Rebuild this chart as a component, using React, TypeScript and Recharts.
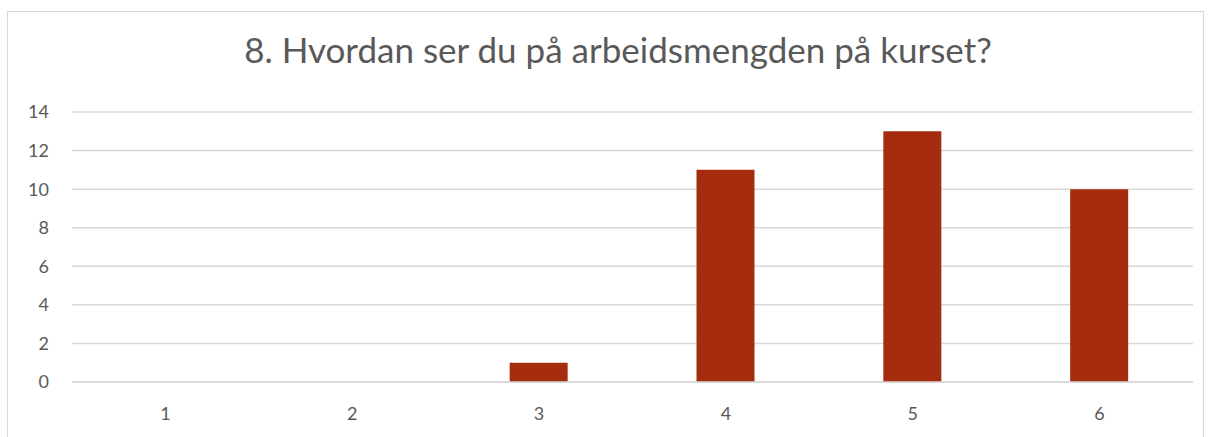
import { BarChart, Bar, XAxis, YAxis, CartesianGrid } from "recharts";

const categories = ["1", "2", "3", "4", "5", "6"];
const answers = [0, 0, 1, 11, 13, 10];
const yTicks = [0, 2, 4, 6, 8, 10, 12, 14];

const data = categories.map((c, i) => ({ name: c, value: answers[i] }));

const font = "Lato, 'Open Sans', sans-serif";

export default function App() {
  return (
    <div
      style={{
        position: "absolute",
        left: 7,
        top: 11,
        width: 1195,
        height: 440,
        border: "1px solid #d9d9d9",
        borderBottom: "none",
        background: "#fff",
        fontFamily: font,
      }}
    >
      <div
        style={{
          position: "absolute",
          left: 25,
          right: 0,
          top: 16,
          textAlign: "center",
          fontSize: 35,
          color: "#595959",
        }}
      >
        8. Hvordan ser du på arbeidsmengden på kurset?
      </div>
      <div style={{ position: "absolute", left: 0, top: 0 }}>
        <BarChart
          width={1196}
          height={426}
          data={data}
          margin={{ top: 100, right: 11, bottom: 0, left: 0 }}
        >
          <CartesianGrid vertical={false} stroke="#d9d9d9" strokeWidth={1.5} />
          <XAxis
            dataKey="name"
            height={56}
            axisLine={{ stroke: "#d9d9d9", strokeWidth: 1.5 }}
            tickLine={false}
            tickSize={0}
            tickMargin={25}
            tick={{ fill: "#595959", fontSize: 18, fontFamily: font }}
          />
          <YAxis
            width={64}
            domain={[0, 14]}
            ticks={yTicks}
            axisLine={false}
            tickLine={false}
            tickSize={0}
            tickMargin={23}
            tick={{ fill: "#595959", fontSize: 18, fontFamily: font }}
          />
          <Bar dataKey="value" fill="#a52c0f" barSize={58} isAnimationActive={false} />
        </BarChart>
      </div>
    </div>
  );
}
